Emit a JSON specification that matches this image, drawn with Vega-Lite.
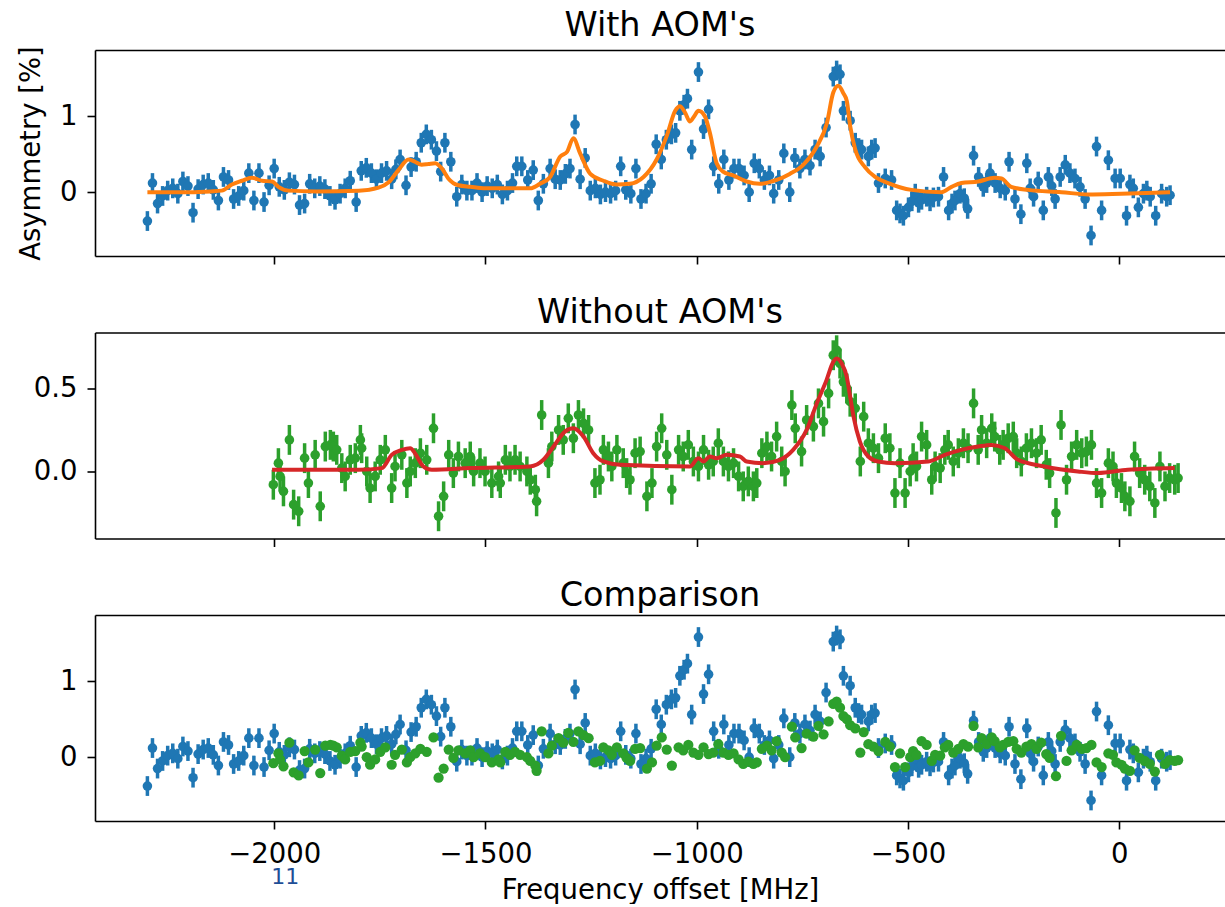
{
  "$schema": "https://vega.github.io/schema/vega-lite/v6.json",
  "background": "white",
  "padding": {"left": 17, "top": 9, "right": 0, "bottom": 0},
  "config": {
    "view": {"stroke": null},
    "font": "DejaVu Sans",
    "title": {"fontSize": 33.5, "font": "DejaVu Sans", "fontWeight": "normal", "color": "#000", "frame": "group", "anchor": "middle", "offset": 2, "baseline": "alphabetic"},
    "axis": {"grid": false, "labelFont": "DejaVu Sans", "titleFont": "DejaVu Sans", "labelFontSize": 27.5, "titleFontSize": 27.5, "titleFontWeight": "normal", "labelColor": "#000", "titleColor": "#000", "tickColor": "#000", "domainColor": "#000", "domainWidth": 1.6, "tickWidth": 1.6, "tickSize": 8, "labelPadding": 9},
    "axisY": {"labelPadding": 10}
  },
  "datasets": {
    "blue": [
      {"x":-2300,"y":-0.38,"err":0.13},{"x":-2288,"y":0.12,"err":0.13},{"x":-2276,"y":-0.15,"err":0.13},{"x":-2264,"y":-0.05,"err":0.13},{"x":-2252,"y":0.02,"err":0.13},{"x":-2240,"y":0.05,"err":0.13},{"x":-2228,"y":-0.02,"err":0.13},{"x":-2216,"y":0.14,"err":0.13},{"x":-2204,"y":0.08,"err":0.13},{"x":-2192,"y":-0.27,"err":0.13},{"x":-2180,"y":0.04,"err":0.13},{"x":-2168,"y":0.10,"err":0.13},{"x":-2156,"y":0.12,"err":0.13},{"x":-2144,"y":0.03,"err":0.13},{"x":-2132,"y":-0.11,"err":0.13},{"x":-2120,"y":0.20,"err":0.13},{"x":-2108,"y":0.16,"err":0.13},{"x":-2096,"y":-0.09,"err":0.13},{"x":-2084,"y":-0.05,"err":0.13},{"x":-2072,"y":0.02,"err":0.13},{"x":-2060,"y":0.25,"err":0.13},{"x":-2048,"y":-0.11,"err":0.13},{"x":-2036,"y":0.25,"err":0.13},{"x":-2024,"y":-0.13,"err":0.13},{"x":-2012,"y":0.09,"err":0.13},{"x":-2000,"y":0.31,"err":0.13},
      {"x":-1988,"y":0.07,"err":0.13},{"x":-1976,"y":0.03,"err":0.13},{"x":-1964,"y":0.13,"err":0.13},{"x":-1952,"y":0.10,"err":0.13},{"x":-1940,"y":-0.17,"err":0.13},{"x":-1928,"y":-0.15,"err":0.13},{"x":-1916,"y":0.11,"err":0.13},{"x":-1904,"y":0.05,"err":0.13},{"x":-1892,"y":0.08,"err":0.13},{"x":-1880,"y":0.04,"err":0.13},{"x":-1868,"y":-0.05,"err":0.13},{"x":-1856,"y":-0.10,"err":0.13},{"x":-1844,"y":-0.02,"err":0.13},{"x":-1832,"y":0.05,"err":0.13},{"x":-1820,"y":0.15,"err":0.13},{"x":-1806,"y":-0.13,"err":0.13},{"x":-1794,"y":0.28,"err":0.13},{"x":-1782,"y":0.32,"err":0.13},{"x":-1770,"y":0.25,"err":0.13},{"x":-1758,"y":0.17,"err":0.13},{"x":-1746,"y":0.25,"err":0.13},{"x":-1734,"y":0.28,"err":0.13},{"x":-1722,"y":0.17,"err":0.13},{"x":-1712,"y":0.30,"err":0.13},{"x":-1702,"y":0.43,"err":0.13},{"x":-1688,"y":0.09,"err":0.13},{"x":-1676,"y":0.33,"err":0.13},{"x":-1664,"y":0.40,"err":0.13},{"x":-1652,"y":0.65,"err":0.13},{"x":-1640,"y":0.76,"err":0.13},{"x":-1628,"y":0.69,"err":0.13},{"x":-1616,"y":0.54,"err":0.13},{"x":-1606,"y":0.27,"err":0.13},{"x":-1596,"y":0.65,"err":0.13},{"x":-1582,"y":0.40,"err":0.13},{"x":-1568,"y":-0.06,"err":0.13},{"x":-1556,"y":0.10,"err":0.13},{"x":-1544,"y":0.02,"err":0.13},{"x":-1532,"y":0.02,"err":0.13},{"x":-1520,"y":0.12,"err":0.13},{"x":-1508,"y":0.00,"err":0.13},{"x":-1496,"y":0.08,"err":0.13},{"x":-1484,"y":0.05,"err":0.13},{"x":-1472,"y":0.10,"err":0.13},{"x":-1460,"y":-0.03,"err":0.13},{"x":-1448,"y":0.02,"err":0.13},{"x":-1436,"y":0.12,"err":0.13},{"x":-1426,"y":0.34,"err":0.13},{"x":-1414,"y":0.34,"err":0.13},{"x":-1400,"y":0.16,"err":0.13},{"x":-1387,"y":0.29,"err":0.13},{"x":-1375,"y":-0.11,"err":0.13},{"x":-1363,"y":0.11,"err":0.13},{"x":-1347,"y":0.31,"err":0.13},{"x":-1335,"y":0.17,"err":0.13},{"x":-1323,"y":0.16,"err":0.13},{"x":-1311,"y":0.24,"err":0.13},{"x":-1300,"y":0.31,"err":0.13},
      {"x":-1288,"y":0.89,"err":0.13},{"x":-1276,"y":0.17,"err":0.13},{"x":-1264,"y":0.45,"err":0.13},{"x":-1252,"y":0.02,"err":0.13},{"x":-1240,"y":0.05,"err":0.13},{"x":-1228,"y":-0.03,"err":0.13},{"x":-1216,"y":0.00,"err":0.13},{"x":-1204,"y":-0.02,"err":0.13},{"x":-1192,"y":0.02,"err":0.13},{"x":-1180,"y":0.34,"err":0.13},{"x":-1168,"y":0.03,"err":0.13},{"x":-1156,"y":-0.02,"err":0.13},{"x":-1144,"y":0.31,"err":0.13},{"x":-1132,"y":-0.09,"err":0.13},{"x":-1120,"y":-0.02,"err":0.13},{"x":-1108,"y":0.11,"err":0.13},{"x":-1096,"y":0.63,"err":0.13},{"x":-1084,"y":0.43,"err":0.13},{"x":-1072,"y":0.69,"err":0.13},{"x":-1060,"y":0.76,"err":0.13},{"x":-1050,"y":0.78,"err":0.13},{"x":-1040,"y":1.07,"err":0.13},{"x":-1030,"y":1.15,"err":0.13},{"x":-1022,"y":1.23,"err":0.13},{"x":-1012,"y":0.56,"err":0.13},{"x":-996,"y":1.58,"err":0.13},{"x":-984,"y":0.83,"err":0.13},{"x":-972,"y":1.09,"err":0.13},{"x":-960,"y":0.34,"err":0.13},{"x":-948,"y":0.11,"err":0.13},{"x":-936,"y":0.43,"err":0.13},{"x":-924,"y":0.16,"err":0.13},{"x":-912,"y":0.31,"err":0.13},{"x":-900,"y":0.31,"err":0.13},{"x":-888,"y":0.22,"err":0.13},{"x":-876,"y":0.00,"err":0.13},{"x":-864,"y":0.38,"err":0.13},{"x":-852,"y":0.31,"err":0.13},{"x":-840,"y":0.16,"err":0.13},{"x":-828,"y":0.22,"err":0.13},{"x":-818,"y":-0.02,"err":0.13},{"x":-806,"y":0.16,"err":0.13},{"x":-794,"y":0.51,"err":0.13},{"x":-780,"y":0.00,"err":0.13},{"x":-768,"y":0.45,"err":0.13},{"x":-756,"y":0.31,"err":0.13},{"x":-744,"y":0.43,"err":0.13},{"x":-732,"y":0.35,"err":0.13},{"x":-720,"y":0.56,"err":0.13},{"x":-708,"y":0.47,"err":0.13},{"x":-694,"y":0.85,"err":0.13},{"x":-677,"y":1.52,"err":0.13},{"x":-669,"y":1.60,"err":0.13},{"x":-661,"y":1.55,"err":0.13},{"x":-653,"y":1.07,"err":0.13},{"x":-637,"y":0.94,"err":0.13},{"x":-625,"y":0.65,"err":0.13},{"x":-617,"y":0.58,"err":0.13},{"x":-610,"y":0.56,"err":0.13},{"x":-594,"y":0.47,"err":0.13},{"x":-586,"y":0.56,"err":0.13},{"x":-578,"y":0.58,"err":0.13},
      {"x":-570,"y":0.12,"err":0.13},{"x":-554,"y":0.18,"err":0.13},{"x":-539,"y":0.16,"err":0.13},{"x":-527,"y":-0.24,"err":0.13},{"x":-519,"y":-0.28,"err":0.13},{"x":-511,"y":-0.31,"err":0.13},{"x":-499,"y":-0.20,"err":0.13},{"x":-491,"y":-0.12,"err":0.13},{"x":-483,"y":-0.02,"err":0.13},{"x":-475,"y":-0.14,"err":0.13},{"x":-468,"y":-0.10,"err":0.13},{"x":-456,"y":-0.06,"err":0.13},{"x":-448,"y":-0.12,"err":0.13},{"x":-440,"y":-0.07,"err":0.13},{"x":-428,"y":-0.06,"err":0.13},{"x":-416,"y":0.20,"err":0.13},{"x":-404,"y":-0.24,"err":0.13},{"x":-396,"y":-0.15,"err":0.13},{"x":-389,"y":-0.11,"err":0.13},{"x":-377,"y":-0.02,"err":0.13},{"x":-367,"y":-0.08,"err":0.13},{"x":-359,"y":-0.22,"err":0.13},{"x":-345,"y":0.48,"err":0.13},{"x":-333,"y":0.20,"err":0.13},{"x":-322,"y":0.07,"err":0.13},{"x":-314,"y":0.12,"err":0.13},{"x":-306,"y":0.25,"err":0.13},{"x":-294,"y":0.12,"err":0.13},{"x":-282,"y":0.05,"err":0.13},{"x":-270,"y":0.02,"err":0.13},{"x":-261,"y":0.40,"err":0.13},{"x":-247,"y":-0.09,"err":0.13},{"x":-233,"y":-0.29,"err":0.13},{"x":-219,"y":0.38,"err":0.13},{"x":-211,"y":0.05,"err":0.13},{"x":-203,"y":-0.06,"err":0.13},{"x":-192,"y":0.14,"err":0.13},{"x":-180,"y":-0.24,"err":0.13},{"x":-168,"y":0.20,"err":0.13},{"x":-160,"y":0.08,"err":0.13},{"x":-152,"y":-0.09,"err":0.13},{"x":-140,"y":0.20,"err":0.13},{"x":-128,"y":0.36,"err":0.13},{"x":-117,"y":0.25,"err":0.13},{"x":-105,"y":0.18,"err":0.13},{"x":-93,"y":0.07,"err":0.13},{"x":-81,"y":-0.09,"err":0.13},{"x":-67,"y":-0.57,"err":0.13},{"x":-54,"y":0.60,"err":0.13},{"x":-42,"y":-0.24,"err":0.13},{"x":-26,"y":0.42,"err":0.13},{"x":-10,"y":0.18,"err":0.13},{"x":2,"y":0.18,"err":0.13},{"x":17,"y":-0.31,"err":0.13},{"x":25,"y":0.10,"err":0.13},{"x":33,"y":0.05,"err":0.13},{"x":45,"y":-0.20,"err":0.13},{"x":57,"y":-0.02,"err":0.13},{"x":65,"y":0.02,"err":0.13},{"x":73,"y":-0.06,"err":0.13},{"x":86,"y":-0.31,"err":0.13},{"x":100,"y":-0.02,"err":0.13},{"x":112,"y":-0.06,"err":0.13},{"x":120,"y":-0.04,"err":0.13}
    ],
    "green": [
      {"x":-2002,"y":-0.08,"err":0.09},{"x":-1990,"y":0.05,"err":0.09},{"x":-1986,"y":-0.03,"err":0.09},{"x":-1978,"y":-0.12,"err":0.09},{"x":-1964,"y":0.19,"err":0.09},{"x":-1954,"y":-0.20,"err":0.09},{"x":-1942,"y":-0.24,"err":0.09},{"x":-1928,"y":0.08,"err":0.09},{"x":-1919,"y":-0.07,"err":0.09},{"x":-1903,"y":0.10,"err":0.09},{"x":-1891,"y":-0.21,"err":0.09},{"x":-1879,"y":0.15,"err":0.09},{"x":-1867,"y":0.16,"err":0.09},{"x":-1860,"y":0.15,"err":0.09},{"x":-1852,"y":0.13,"err":0.09},{"x":-1840,"y":0.02,"err":0.09},{"x":-1832,"y":-0.03,"err":0.09},{"x":-1820,"y":0.07,"err":0.09},{"x":-1808,"y":0.08,"err":0.09},{"x":-1796,"y":0.19,"err":0.09},{"x":-1793,"y":0.14,"err":0.09},{"x":-1781,"y":0.00,"err":0.09},{"x":-1773,"y":-0.10,"err":0.09},{"x":-1761,"y":-0.03,"err":0.09},{"x":-1749,"y":0.07,"err":0.09},{"x":-1737,"y":0.13,"err":0.09},{"x":-1722,"y":-0.10,"err":0.09},{"x":-1714,"y":0.03,"err":0.09},{"x":-1698,"y":0.10,"err":0.09},{"x":-1686,"y":-0.07,"err":0.09},{"x":-1678,"y":0.00,"err":0.09},{"x":-1666,"y":0.05,"err":0.09},{"x":-1654,"y":0.11,"err":0.09},{"x":-1639,"y":0.07,"err":0.09},{"x":-1623,"y":0.26,"err":0.09},{"x":-1611,"y":-0.27,"err":0.09},{"x":-1599,"y":-0.15,"err":0.09},{"x":-1587,"y":0.10,"err":0.09},{"x":-1576,"y":-0.01,"err":0.09},{"x":-1564,"y":0.09,"err":0.09},{"x":-1548,"y":0.05,"err":0.09},
      {"x":-1536,"y":0.09,"err":0.09},{"x":-1528,"y":0.00,"err":0.09},{"x":-1513,"y":0.05,"err":0.09},{"x":-1501,"y":0.00,"err":0.09},{"x":-1485,"y":-0.07,"err":0.09},{"x":-1469,"y":-0.03,"err":0.09},{"x":-1465,"y":-0.07,"err":0.09},{"x":-1453,"y":0.07,"err":0.09},{"x":-1442,"y":0.03,"err":0.09},{"x":-1430,"y":0.07,"err":0.09},{"x":-1418,"y":0.03,"err":0.09},{"x":-1402,"y":0.00,"err":0.09},{"x":-1394,"y":-0.05,"err":0.09},{"x":-1382,"y":-0.11,"err":0.09},{"x":-1379,"y":-0.18,"err":0.09},{"x":-1367,"y":0.34,"err":0.09},{"x":-1351,"y":0.05,"err":0.09},{"x":-1343,"y":0.15,"err":0.09},{"x":-1327,"y":0.25,"err":0.09},{"x":-1316,"y":0.19,"err":0.09},{"x":-1304,"y":0.32,"err":0.09},{"x":-1292,"y":0.20,"err":0.09},{"x":-1280,"y":0.34,"err":0.09},{"x":-1268,"y":0.29,"err":0.09},{"x":-1256,"y":0.25,"err":0.09},{"x":-1241,"y":-0.07,"err":0.09},{"x":-1229,"y":-0.05,"err":0.09},{"x":-1221,"y":0.13,"err":0.09},{"x":-1209,"y":0.09,"err":0.09},{"x":-1201,"y":0.03,"err":0.09},{"x":-1189,"y":0.13,"err":0.09},{"x":-1174,"y":0.05,"err":0.09},{"x":-1166,"y":-0.01,"err":0.09},{"x":-1158,"y":-0.05,"err":0.09},{"x":-1146,"y":0.11,"err":0.09},{"x":-1134,"y":0.12,"err":0.09},{"x":-1118,"y":-0.15,"err":0.09},{"x":-1106,"y":-0.07,"err":0.09},{"x":-1095,"y":0.15,"err":0.09},{"x":-1083,"y":0.26,"err":0.09},{"x":-1071,"y":0.10,"err":0.09},{"x":-1059,"y":-0.11,"err":0.09},{"x":-1043,"y":0.13,"err":0.09},{"x":-1032,"y":0.09,"err":0.09},{"x":-1020,"y":0.16,"err":0.09},{"x":-1008,"y":0.06,"err":0.09},{"x":-996,"y":0.03,"err":0.09},{"x":-984,"y":0.13,"err":0.09},{"x":-972,"y":0.04,"err":0.09},{"x":-961,"y":0.06,"err":0.09},{"x":-949,"y":0.17,"err":0.09},{"x":-937,"y":0.06,"err":0.09},{"x":-925,"y":0.03,"err":0.09},{"x":-913,"y":0.05,"err":0.09},{"x":-901,"y":-0.03,"err":0.09},{"x":-890,"y":-0.09,"err":0.09},{"x":-878,"y":-0.06,"err":0.09},{"x":-866,"y":-0.09,"err":0.09},{"x":-858,"y":-0.07,"err":0.09},{"x":-846,"y":0.11,"err":0.09},{"x":-834,"y":0.15,"err":0.09},{"x":-823,"y":0.09,"err":0.09},{"x":-811,"y":0.21,"err":0.09},{"x":-799,"y":0.06,"err":0.09},{"x":-791,"y":0.00,"err":0.09},{"x":-775,"y":0.40,"err":0.09},{"x":-767,"y":0.26,"err":0.09},{"x":-752,"y":0.12,"err":0.09},{"x":-740,"y":0.31,"err":0.09},{"x":-724,"y":0.27,"err":0.09},{"x":-712,"y":0.41,"err":0.09},{"x":-700,"y":0.30,"err":0.09},{"x":-688,"y":0.47,"err":0.09},{"x":-677,"y":0.70,"err":0.09},{"x":-669,"y":0.73,"err":0.09},{"x":-661,"y":0.65,"err":0.09},{"x":-653,"y":0.54,"err":0.09},{"x":-645,"y":0.50,"err":0.09},{"x":-637,"y":0.42,"err":0.09},
      {"x":-625,"y":0.38,"err":0.09},{"x":-613,"y":0.06,"err":0.09},{"x":-605,"y":0.33,"err":0.09},{"x":-594,"y":0.17,"err":0.09},{"x":-582,"y":0.14,"err":0.09},{"x":-570,"y":0.08,"err":0.09},{"x":-554,"y":0.20,"err":0.09},{"x":-543,"y":0.14,"err":0.09},{"x":-531,"y":-0.13,"err":0.09},{"x":-519,"y":0.05,"err":0.09},{"x":-507,"y":-0.13,"err":0.09},{"x":-495,"y":0.00,"err":0.09},{"x":-488,"y":0.08,"err":0.09},{"x":-480,"y":0.03,"err":0.09},{"x":-468,"y":0.21,"err":0.09},{"x":-456,"y":0.16,"err":0.09},{"x":-444,"y":-0.05,"err":0.09},{"x":-436,"y":0.03,"err":0.09},{"x":-424,"y":0.02,"err":0.09},{"x":-413,"y":0.13,"err":0.09},{"x":-405,"y":0.16,"err":0.09},{"x":-393,"y":0.06,"err":0.09},{"x":-381,"y":0.11,"err":0.09},{"x":-369,"y":0.17,"err":0.09},{"x":-358,"y":0.14,"err":0.09},{"x":-345,"y":0.41,"err":0.09},{"x":-334,"y":0.13,"err":0.09},{"x":-326,"y":0.25,"err":0.09},{"x":-314,"y":0.17,"err":0.09},{"x":-302,"y":0.26,"err":0.09},{"x":-295,"y":0.21,"err":0.09},{"x":-283,"y":0.13,"err":0.09},{"x":-275,"y":0.16,"err":0.09},{"x":-263,"y":0.20,"err":0.09},{"x":-251,"y":0.21,"err":0.09},{"x":-243,"y":0.11,"err":0.09},{"x":-232,"y":0.06,"err":0.09},{"x":-220,"y":0.14,"err":0.09},{"x":-208,"y":0.17,"err":0.09},{"x":-196,"y":0.11,"err":0.09},{"x":-185,"y":0.19,"err":0.09},{"x":-173,"y":0.04,"err":0.09},{"x":-165,"y":-0.01,"err":0.09},{"x":-150,"y":-0.25,"err":0.09},{"x":-138,"y":0.28,"err":0.09},{"x":-125,"y":-0.05,"err":0.09},{"x":-113,"y":0.09,"err":0.09},{"x":-101,"y":0.16,"err":0.09},{"x":-89,"y":0.11,"err":0.09},{"x":-78,"y":0.12,"err":0.09},{"x":-66,"y":0.16,"err":0.09},{"x":-54,"y":-0.07,"err":0.09},{"x":-42,"y":-0.13,"err":0.09},{"x":-26,"y":0.05,"err":0.09},{"x":-15,"y":0.03,"err":0.09},{"x":-7,"y":-0.07,"err":0.09},{"x":5,"y":-0.10,"err":0.09},{"x":13,"y":-0.15,"err":0.09},{"x":25,"y":-0.18,"err":0.09},{"x":36,"y":0.09,"err":0.09},{"x":48,"y":-0.01,"err":0.09},{"x":60,"y":-0.05,"err":0.09},{"x":72,"y":-0.09,"err":0.09},{"x":84,"y":-0.19,"err":0.09},{"x":96,"y":0.03,"err":0.09},{"x":108,"y":-0.09,"err":0.09},{"x":119,"y":-0.04,"err":0.09},{"x":131,"y":-0.05,"err":0.09},{"x":139,"y":-0.04,"err":0.09}
    ],
    "orange": [
      {"x":-2300,"y":0.00},{"x":-2200,"y":0.00},{"x":-2150,"y":0.01},{"x":-2124,"y":0.02},{"x":-2100,"y":0.10},{"x":-2076,"y":0.15},{"x":-2053,"y":0.19},{"x":-2029,"y":0.15},{"x":-2005,"y":0.14},{"x":-1990,"y":0.07},{"x":-1966,"y":0.02},{"x":-1900,"y":0.01},{"x":-1800,"y":0.02},{"x":-1753,"y":0.06},{"x":-1729,"y":0.13},{"x":-1706,"y":0.29},{"x":-1682,"y":0.43},{"x":-1667,"y":0.40},{"x":-1651,"y":0.36},{"x":-1635,"y":0.37},{"x":-1619,"y":0.38},{"x":-1603,"y":0.31},{"x":-1588,"y":0.18},{"x":-1564,"y":0.09},{"x":-1536,"y":0.07},{"x":-1500,"y":0.05},{"x":-1457,"y":0.05},{"x":-1394,"y":0.05},{"x":-1371,"y":0.11},{"x":-1347,"y":0.20},{"x":-1323,"y":0.47},{"x":-1307,"y":0.53},{"x":-1292,"y":0.71},{"x":-1276,"y":0.51},{"x":-1252,"y":0.24},{"x":-1221,"y":0.15},{"x":-1189,"y":0.10},{"x":-1158,"y":0.11},{"x":-1126,"y":0.20},{"x":-1095,"y":0.43},{"x":-1071,"y":0.74},{"x":-1051,"y":1.07},{"x":-1040,"y":1.13},{"x":-1028,"y":1.05},{"x":-1016,"y":0.93},{"x":-1006,"y":1.00},{"x":-996,"y":1.07},{"x":-981,"y":1.00},{"x":-969,"y":0.78},{"x":-953,"y":0.38},{"x":-938,"y":0.27},{"x":-914,"y":0.22},{"x":-882,"y":0.14},{"x":-851,"y":0.11},{"x":-811,"y":0.16},{"x":-780,"y":0.24},{"x":-748,"y":0.36},{"x":-716,"y":0.60},{"x":-692,"y":0.91},{"x":-677,"y":1.31},{"x":-665,"y":1.40},{"x":-653,"y":1.30},{"x":-645,"y":1.20},{"x":-637,"y":0.87},{"x":-625,"y":0.56},{"x":-602,"y":0.33},{"x":-578,"y":0.20},{"x":-547,"y":0.12},{"x":-492,"y":0.03},{"x":-421,"y":0.00},{"x":-397,"y":0.07},{"x":-374,"y":0.12},{"x":-334,"y":0.14},{"x":-295,"y":0.19},{"x":-279,"y":0.18},{"x":-256,"y":0.07},{"x":-216,"y":0.03},{"x":-137,"y":0.00},{"x":-74,"y":-0.03},{"x":5,"y":-0.02},{"x":120,"y":0.00}
    ],
    "red": [
      {"x":-2005,"y":0.01},{"x":-1800,"y":0.01},{"x":-1745,"y":0.02},{"x":-1722,"y":0.10},{"x":-1698,"y":0.13},{"x":-1678,"y":0.14},{"x":-1667,"y":0.11},{"x":-1647,"y":0.03},{"x":-1627,"y":0.01},{"x":-1536,"y":0.02},{"x":-1394,"y":0.03},{"x":-1363,"y":0.07},{"x":-1339,"y":0.15},{"x":-1312,"y":0.24},{"x":-1292,"y":0.26},{"x":-1268,"y":0.21},{"x":-1245,"y":0.11},{"x":-1221,"y":0.06},{"x":-1181,"y":0.04},{"x":-1016,"y":0.03},{"x":-996,"y":0.08},{"x":-984,"y":0.06},{"x":-969,"y":0.09},{"x":-953,"y":0.08},{"x":-929,"y":0.10},{"x":-898,"y":0.09},{"x":-882,"y":0.06},{"x":-843,"y":0.05},{"x":-803,"y":0.07},{"x":-772,"y":0.13},{"x":-740,"y":0.25},{"x":-716,"y":0.41},{"x":-693,"y":0.55},{"x":-677,"y":0.66},{"x":-669,"y":0.68},{"x":-657,"y":0.65},{"x":-645,"y":0.57},{"x":-637,"y":0.45},{"x":-629,"y":0.33},{"x":-614,"y":0.18},{"x":-594,"y":0.09},{"x":-571,"y":0.06},{"x":-531,"y":0.05},{"x":-452,"y":0.06},{"x":-413,"y":0.10},{"x":-374,"y":0.13},{"x":-334,"y":0.15},{"x":-303,"y":0.16},{"x":-271,"y":0.14},{"x":-240,"y":0.07},{"x":-177,"y":0.03},{"x":-98,"y":0.00},{"x":-51,"y":-0.01},{"x":20,"y":0.01},{"x":131,"y":0.02}
    ],
    "note": [{"x": -1974, "y": -1.58, "t": "11"}]
  },
  "spacing": 76.5,
  "bounds": "flush",
  "vconcat": [
    {
      "width": 1130, "height": 206,
      "title": "With AOM's",
      "resolve": {"axis": {"x": "independent"}},
      "layer": [
        {
          "data": {"name": "blue"},
          "mark": {"type": "errorbar", "color": "#1f77b4", "thickness": 3.5, "ticks": false},
          "encoding": {
            "x": {"field": "x", "type": "quantitative", "scale": {"domain": [-2424, 250], "nice": false, "zero": false}, "axis": {"orient": "bottom", "values": [-2000, -1500, -1000, -500, 0], "labels": false, "title": null}},
            "y": {"field": "y", "type": "quantitative", "scale": {"domain": [-0.84, 1.87], "nice": false, "zero": false}, "axis": {"values": [0, 1], "format": "d", "title": "Asymmetry [%]", "titlePadding": 14}},
            "yError": {"field": "err"}
          }
        },
        {
          "data": {"name": "blue"},
          "mark": {"type": "circle", "color": "#1f77b4", "size": 92, "opacity": 1},
          "encoding": {
            "x": {"field": "x", "type": "quantitative", "scale": {"domain": [-2424, 250], "nice": false, "zero": false}, "axis": null},
            "y": {"field": "y", "type": "quantitative", "scale": {"domain": [-0.84, 1.87], "nice": false, "zero": false}, "axis": {"values": [0, 1], "format": "d", "title": "Asymmetry [%]", "titlePadding": 14}}
          }
        },
        {
          "data": {"name": "orange"},
          "mark": {"type": "line", "color": "#ff7f0e", "strokeWidth": 4, "interpolate": "monotone"},
          "encoding": {
            "x": {"field": "x", "type": "quantitative", "scale": {"domain": [-2424, 250], "nice": false, "zero": false}, "axis": {"orient": "top", "labels": false, "ticks": false, "title": null, "minExtent": 0, "maxExtent": 0}},
            "y": {"field": "y", "type": "quantitative", "scale": {"domain": [-0.84, 1.87], "nice": false, "zero": false}, "axis": {"values": [0, 1], "format": "d", "title": "Asymmetry [%]", "titlePadding": 14}}
          }
        }
      ]
    },
    {
      "width": 1130, "height": 206,
      "title": "Without AOM's",
      "resolve": {"axis": {"x": "independent"}},
      "layer": [
        {
          "data": {"name": "green"},
          "mark": {"type": "errorbar", "color": "#2ca02c", "thickness": 3.5, "ticks": false},
          "encoding": {
            "x": {"field": "x", "type": "quantitative", "scale": {"domain": [-2424, 250], "nice": false, "zero": false}, "axis": {"orient": "bottom", "values": [-2000, -1500, -1000, -500, 0], "labels": false, "title": null}},
            "y": {"field": "y", "type": "quantitative", "scale": {"domain": [-0.404, 0.837], "nice": false, "zero": false}, "axis": {"values": [0, 0.5], "format": ".1f", "title": null}},
            "yError": {"field": "err"}
          }
        },
        {
          "data": {"name": "green"},
          "mark": {"type": "circle", "color": "#2ca02c", "size": 92, "opacity": 1},
          "encoding": {
            "x": {"field": "x", "type": "quantitative", "scale": {"domain": [-2424, 250], "nice": false, "zero": false}, "axis": null},
            "y": {"field": "y", "type": "quantitative", "scale": {"domain": [-0.404, 0.837], "nice": false, "zero": false}, "axis": {"values": [0, 0.5], "format": ".1f", "title": null}}
          }
        },
        {
          "data": {"name": "red"},
          "mark": {"type": "line", "color": "#d62728", "strokeWidth": 4, "interpolate": "monotone"},
          "encoding": {
            "x": {"field": "x", "type": "quantitative", "scale": {"domain": [-2424, 250], "nice": false, "zero": false}, "axis": {"orient": "top", "labels": false, "ticks": false, "title": null, "minExtent": 0, "maxExtent": 0}},
            "y": {"field": "y", "type": "quantitative", "scale": {"domain": [-0.404, 0.837], "nice": false, "zero": false}, "axis": {"values": [0, 0.5], "format": ".1f", "title": null}}
          }
        }
      ]
    },
    {
      "width": 1130, "height": 206,
      "title": "Comparison",
      "resolve": {"axis": {"x": "independent"}},
      "layer": [
        {
          "data": {"name": "blue"},
          "mark": {"type": "errorbar", "color": "#1f77b4", "thickness": 3.5, "ticks": false},
          "encoding": {
            "x": {"field": "x", "type": "quantitative", "scale": {"domain": [-2424, 250], "nice": false, "zero": false}, "axis": {"orient": "bottom", "values": [-2000, -1500, -1000, -500, 0], "format": "d", "title": "Frequency offset [MHz]", "labelPadding": 11, "titlePadding": 9}},
            "y": {"field": "y", "type": "quantitative", "scale": {"domain": [-0.84, 1.87], "nice": false, "zero": false}, "axis": {"values": [0, 1], "format": "d", "title": null}},
            "yError": {"field": "err"}
          }
        },
        {
          "data": {"name": "blue"},
          "mark": {"type": "circle", "color": "#1f77b4", "size": 92, "opacity": 1},
          "encoding": {
            "x": {"field": "x", "type": "quantitative", "scale": {"domain": [-2424, 250], "nice": false, "zero": false}, "axis": null},
            "y": {"field": "y", "type": "quantitative", "scale": {"domain": [-0.84, 1.87], "nice": false, "zero": false}, "axis": {"values": [0, 1], "format": "d", "title": null}}
          }
        },
        {
          "data": {"name": "green"},
          "mark": {"type": "circle", "color": "#2ca02c", "size": 105, "opacity": 1},
          "encoding": {
            "x": {"field": "x", "type": "quantitative", "scale": {"domain": [-2424, 250], "nice": false, "zero": false}, "axis": {"orient": "top", "labels": false, "ticks": false, "title": null, "minExtent": 0, "maxExtent": 0}},
            "y": {"field": "y", "type": "quantitative", "scale": {"domain": [-0.84, 1.87], "nice": false, "zero": false}, "axis": {"values": [0, 1], "format": "d", "title": null}}
          }
        },
        {
          "data": {"name": "note"},
          "mark": {"type": "text", "color": "#1f4e96", "fontSize": 22, "font": "DejaVu Sans", "baseline": "middle", "align": "center"},
          "encoding": {
            "x": {"field": "x", "type": "quantitative", "scale": {"domain": [-2424, 250], "nice": false, "zero": false}, "axis": null},
            "y": {"field": "y", "type": "quantitative", "scale": {"domain": [-0.84, 1.87], "nice": false, "zero": false}, "axis": {"values": [0, 1], "format": "d", "title": null}},
            "text": {"field": "t"}
          }
        }
      ]
    }
  ]
}
